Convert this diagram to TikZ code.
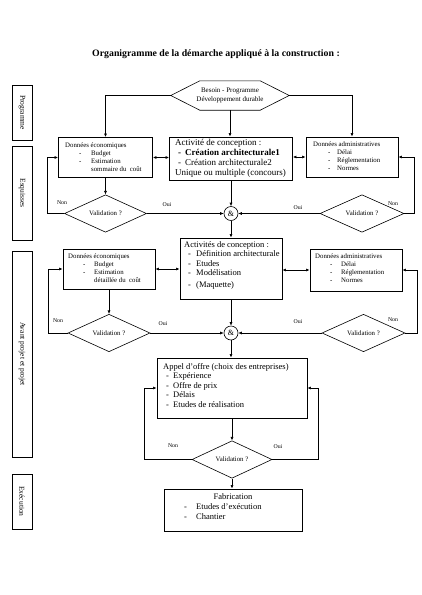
\documentclass[tikz,border=0pt]{standalone}
\usepackage{fontspec}
\setmainfont{Liberation Serif}
\usetikzlibrary{shapes.geometric,arrows.meta,calc}
\newcommand\itm[2]{\hspace*{#1pt}\makebox[#2pt][l]{-}}
\begin{document}
\begin{tikzpicture}[x=1pt,y=-1pt,
  box/.style={draw, line width=0.9pt, inner sep=0pt},
  txt/.style={inner sep=0pt, anchor=base west, align=left},
  con/.style={line width=0.6pt},
  arr/.style={con, -{Latex[length=3.5pt,width=3pt]}},
  darr/.style={con, {Latex[length=3.5pt,width=3pt]}-{Latex[length=3.5pt,width=3pt]}},
  valid/.style={diamond, draw, line width=0.6pt, inner sep=0pt, font=\fontsize{6.8}{8}\selectfont},
  side/.style={draw, line width=0.9pt, rotate=-90, minimum height=20pt, inner sep=0pt, font=\fontsize{7.5}{9}\selectfont},
  lab/.style={inner sep=0pt, font=\fontsize{5.8}{6.5}\selectfont},
  small/.style={font=\fontsize{6.8}{8.2}\selectfont},
  big/.style={font=\fontsize{8.5}{9.5}\selectfont},
  andc/.style={circle, draw, line width=0.6pt, minimum size=14pt, inner sep=0pt, font=\fontsize{8}{9}\selectfont},
]
\useasboundingbox (0,0) rectangle (421,595);

\node[font=\fontsize{9.8}{11}\selectfont\bfseries] (title) at (216,54) {Organigramme de la démarche appliqué à la construction :};

% side labels
\node[side, minimum width=55pt] (sProg) at (22,112.5) {Programme};
\node[side, minimum width=94pt] (sEsq) at (22,193) {Esquisses};
\node[side, minimum width=206pt] (sAvp) at (22,354) {Avant projet et projet};
\node[side, minimum width=55pt] (sExe) at (22,501.5) {Exécution};

% hexagon
\node[inner sep=0pt, minimum width=118pt, minimum height=29pt, align=center, font=\fontsize{7}{8.4}\selectfont] (hex) at (230,95.5) {Besoin - Programme\\Développement durable};
\draw[con] (hex.west) -- ($(hex.north west)+(29,0)$) -- ($(hex.north east)+(-29,0)$) -- (hex.east) -- ($(hex.south east)+(-29,0)$) -- ($(hex.south west)+(29,0)$) -- cycle;

% row 1
\node[box, minimum width=94pt, minimum height=40pt] (eco1) at (105.5,157.5) {};
\node[box, minimum width=123pt, minimum height=43pt] (act1) at (231,158.5) {};
\node[box, minimum width=92pt, minimum height=40pt] (adm1) at (352,157) {};
\node[txt, small] (eco1t) at (65,171.6) {Données économiques\\\itm{14}{12}Budget\\\itm{14}{12}Estimation\\\hspace*{26pt}sommaire du\ \ coût};
\node[txt, small] (adm1t) at (313,170.6) {Données administratives\\\itm{15}{9}Délai\\\itm{15}{9}Réglementation\\\itm{15}{9}Normes};
\node[txt, font=\fontsize{9}{10}\selectfont] (act1t) at (175,175) {Activité de conception :\\\textbf{\itm{3}{7}Création architecturale1}\\\itm{3}{7}Création architecturale2\\Unique ou multiple (concours)};

\node[valid, minimum width=82pt, minimum height=28pt] (v1l) at (105.5,213.5) {Validation ?};
\node[andc] (and1) at (231,213.5) {\&};
\node[valid, minimum width=84pt, minimum height=28pt] (v1r) at (362,213.5) {Validation ?};

\draw[arr] (hex.west) -| (eco1.north);
\draw[arr] (hex.east) -| (adm1.north);
\draw[arr] (hex.south) -- (hex.south |- act1.north);
\draw[darr] (eco1.east) -- (eco1.east -| act1.west);
\draw[darr] (adm1.west) -- (adm1.west -| act1.east);
\draw[arr] (eco1.south) -- (v1l.north);
\draw[arr] (v1l.west) -- ++(-17,0) |- (eco1.west);
\draw[arr] (v1l.east) -- (and1.west);
\draw[arr] (v1r.west) -- (and1.east);
\draw[arr] (v1r.east) -- ++(10,0) |- (adm1.east);
\draw[arr] (act1.south) -- (and1.north);

\node[lab] (n1a) at (62,203) {Non};
\node[lab] (o1a) at (167,205) {Oui};
\node[lab] (o1b) at (298,208) {Oui};
\node[lab] (n1b) at (393,204) {Non};

% row 2
\node[box, minimum width=92pt, minimum height=40pt] (eco2) at (109,269) {};
\node[box, minimum width=102pt, minimum height=61pt] (act2) at (231,268.5) {};
\node[box, minimum width=92pt, minimum height=42pt] (adm2) at (356,270) {};
\node[txt, small] (eco2t) at (68,282.6) {Données économiques\\\itm{15}{11}Budget\\\itm{15}{11}Estimation\\\hspace*{26pt}détaillée du\ \ coût};
\node[txt, small] (adm2t) at (315,282.6) {Données administratives\\\itm{15}{11}Délai\\\itm{15}{11}Réglementation\\\itm{15}{11}Normes};
\node[txt, big] (act2t) at (184,287.5) {Activités de conception :\\\itm{4}{8}Définition architecturale\\\itm{4}{8}Etudes\\\itm{4}{8}Modélisation\\[2.5pt]\itm{4}{8}(Maquette)};

\node[valid, minimum width=82pt, minimum height=28pt] (v2l) at (109,333) {Validation ?};
\node[andc] (and2) at (231,333) {\&};
\node[valid, minimum width=83pt, minimum height=28pt] (v2r) at (363.5,333) {Validation ?};

\draw[arr] (and1.south) -- (act2.north);
\draw[darr] (eco2.east) -- (eco2.east -| act2.west);
\draw[darr] (adm2.west) -- (adm2.west -| act2.east);
\draw[arr] (eco2.south) -- (v2l.north);
\draw[arr] (v2l.west) -- ++(-19,0) |- (eco2.west);
\draw[arr] (v2l.east) -- (and2.west);
\draw[arr] (v2r.west) -- (and2.east);
\draw[arr] (v2r.east) -- ++(12,0) |- (adm2.east);
\draw[arr] (act2.south) -- (and2.north);

\node[lab] (n2a) at (58,321) {Non};
\node[lab] (o2a) at (163,324) {Oui};
\node[lab] (o2b) at (298,322) {Oui};
\node[lab] (n2b) at (393,320) {Non};

% row 3
\node[box, minimum width=150pt, minimum height=60pt] (appel) at (232,388) {};
\node[txt, big] (appelt) at (163,407) {Appel d’offre (choix des entreprises)\\\itm{3}{7}Expérience\\\itm{3}{7}Offre de prix\\\itm{3}{7}Délais\\\itm{3}{7}Etudes de réalisation};
\node[valid, minimum width=80pt, minimum height=27pt] (v3) at (232,459.5) {Validation ?};
\node[box, minimum width=138pt, minimum height=42pt] (fab) at (233,510) {};
\node[txt, font=\fontsize{8.5}{10}\selectfont] (fabt) at (184,519.5) {\hspace*{29.5pt}Fabrication\\\makebox[12pt][l]{-}Etudes d’exécution\\\makebox[12pt][l]{-}Chantier};

\draw[arr] (and2.south) -- (and2.south |- appel.north);
\draw[arr] (appel.south) -- (v3.north);
\draw[arr] (v3.west) -- ++(-47,0) |- (appel.west);
\draw[arr] (v3.east) -- ++(46,0) |- (appel.east);
\draw[arr] (v3.south) -- (v3.south |- fab.north);

\node[lab] (n3) at (173,446) {Non};
\node[lab] (o3) at (278,447) {Oui};
\end{tikzpicture}
\end{document}
